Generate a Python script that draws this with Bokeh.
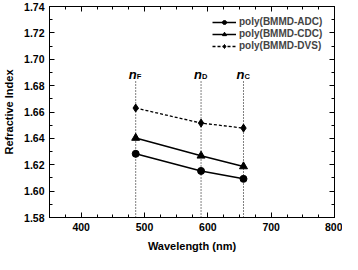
from bokeh.plotting import figure
from bokeh.models import (LinearAxis, Range1d, FixedTicker, Legend, LegendItem,
                          ColumnDataSource, NumeralTickFormatter)
from bokeh.core.properties import value
from bokeh.embed import file_html
from bokeh.resources import INLINE

# ---- data ----
wavelength = [486.1, 589.3, 656.3]
adc = [1.6283, 1.6153, 1.6093]
cdc = [1.6403, 1.6268, 1.6187]
dvs = [1.6630, 1.6516, 1.6478]
series_names = ["poly(BMMD-ADC)", "poly(BMMD-CDC)", "poly(BMMD-DVS)"]
line_names = ["F", "D", "C"]
x_ticks = [400, 500, 600, 700, 800]
y_ticks = [1.58, 1.60, 1.62, 1.64, 1.66, 1.68, 1.70, 1.72, 1.74]
x_label = "Wavelength (nm)"
y_label = "Refractive Index"

FONT = "Liberation Sans"

p = figure(width=342, height=254, output_backend="svg", toolbar_location=None,
           x_range=Range1d(350, 800), y_range=Range1d(1.58, 1.74),
           min_border_left=46, min_border_right=8, min_border_top=6,
           min_border_bottom=30)
p.grid.visible = False
p.outline_line_color = "black"
p.outline_line_width = 1
p.background_fill_color = "white"
p.border_fill_color = "white"

x_minor = [350 + 25 * i for i in range(19)]
y_minor = [round(1.58 + 0.01 * i, 2) for i in range(17)]
xt = FixedTicker(ticks=x_ticks, minor_ticks=x_minor)
yt = FixedTicker(ticks=y_ticks, minor_ticks=y_minor)

def style(ax):
    ax.major_tick_in = 5
    ax.major_tick_out = 0
    ax.minor_tick_in = 3
    ax.minor_tick_out = 0
    ax.axis_line_color = "black"
    ax.major_tick_line_color = "black"
    ax.minor_tick_line_color = "black"
    ax.major_label_text_font = FONT
    ax.major_label_text_font_style = "bold"
    ax.major_label_text_font_size = "10.5px"
    ax.major_label_text_color = "black"
    ax.axis_label_text_font = FONT
    ax.axis_label_text_font_style = "bold"
    ax.axis_label_text_font_size = "11px"
    ax.axis_label_text_color = "black"

xa = p.xaxis[0]
xa.ticker = xt
xa.axis_label = x_label
xa.axis_label_standoff = 6
xa.major_label_standoff = 5
style(xa)

ya = p.yaxis[0]
ya.ticker = yt
ya.formatter = NumeralTickFormatter(format="0.00")
ya.axis_label = y_label
ya.axis_label_standoff = 6
ya.major_label_standoff = 5
style(ya)

top = LinearAxis(ticker=xt)
style(top)
top.major_label_overrides = {t: "" for t in x_ticks}
top.major_label_standoff = 0
p.add_layout(top, "above")
right = LinearAxis(ticker=yt)
style(right)
right.major_label_overrides = {t: "" for t in y_ticks}
right.major_label_standoff = 0
p.add_layout(right, "right")

# dotted reference lines for Fraunhofer lines
p.segment(x0=wavelength, y0=[1.58] * 3, x1=wavelength, y1=[1.6845] * 3,
          line_color="black", line_width=1, line_dash="1 2")

src = ColumnDataSource(dict(x=wavelength, sub=line_names, n=["n"] * 3))
p.text(x="x", y=1.6885, text="n", source=src, text_font=value(FONT),
       text_font_style="bold italic", text_font_size="13px",
       text_align="right", text_baseline="alphabetic", x_offset=1)
p.text(x="x", y=1.6885, text="sub", source=src, text_font=value(FONT),
       text_font_style="bold", text_font_size="7.5px",
       text_align="left", text_baseline="alphabetic", x_offset=1, y_offset=2)

l1 = p.line(wavelength, adc, line_color="black", line_width=1.5)
m1 = p.scatter(wavelength, adc, marker="circle", size=7, color="black")
l2 = p.line(wavelength, cdc, line_color="black", line_width=1.5)
m2 = p.scatter(wavelength, cdc, marker="triangle", size=8, color="black")
l3 = p.line(wavelength, dvs, line_color="black", line_width=1.3, line_dash="3 2")
m3 = p.scatter(wavelength, dvs, marker="diamond", size=8, color="black")

legend = Legend(items=[LegendItem(label=series_names[0], renderers=[l1, m1]),
                       LegendItem(label=series_names[1], renderers=[l2, m2]),
                       LegendItem(label=series_names[2], renderers=[l3, m3])],
                location="top_right", border_line_color=None,
                background_fill_alpha=0, label_text_font=FONT,
                label_text_font_style="bold", label_text_font_size="10px",
                label_height=10, glyph_height=10, glyph_width=24,
                label_width=85, label_standoff=3, spacing=1, padding=2,
                margin=10)
p.add_layout(legend)

open("out.html", "w").write(file_html(p, INLINE))
